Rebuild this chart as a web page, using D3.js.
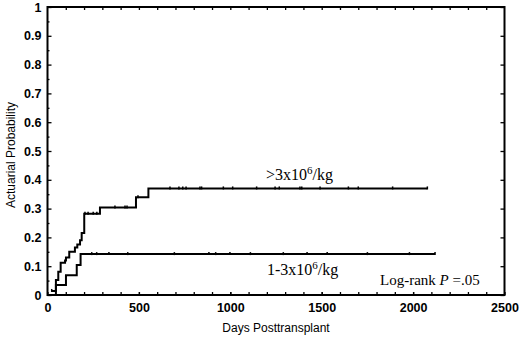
<!DOCTYPE html>
<html>
<head>
<meta charset="utf-8">
<script src="https://cdn.jsdelivr.net/npm/d3@7"></script>
<style>
  html, body { margin: 0; padding: 0; background: #fff; }
  svg { display: block; }
</style>
</head>
<body>
<div id="chart"></div>
<script>
// step curves (cumulative probability after each event)
const highTimes = [23, 46, 59, 72, 96, 101, 119, 150, 163, 178, 187, 201, 287, 484, 552, 2078];
const highProb  = [0.014, 0.052, 0.081, 0.112, 0.120, 0.130, 0.150, 0.165, 0.175, 0.190, 0.215, 0.282, 0.304, 0.339, 0.370, 0.370];
const highCensored = [23, 205, 222, 250, 270, 369, 424, 435, 495, 670, 719, 740, 758, 834, 843, 962,
  1013, 1144, 1245, 1268, 1381, 1391, 1491, 1646, 1700, 1888, 2078];

const lowTimes = [46, 46, 101, 160, 181, 2120];
const lowProb  = [0, 0.035, 0.069, 0.104, 0.142, 0.142];
const lowCensored = [242, 269, 336, 439, 694, 883, 920, 998, 1110, 1290, 1420, 1530, 1750, 1980, 2120];

const xTicks = [0, 500, 1000, 1500, 2000, 2500];
const yTicks = [0, 0.1, 0.2, 0.3, 0.4, 0.5, 0.6, 0.7, 0.8, 0.9, 1];

const W = 520, H = 340;
const mLeft = 47.5, mRight = 504.5, mTop = 7, mBottom = 295;

const svg = d3.select('#chart').append('svg')
  .attr('width', W).attr('height', H);

const x = d3.scaleLinear().domain([0, 2500]).range([mLeft, mRight]);
const y = d3.scaleLinear().domain([0, 1]).range([mBottom, mTop]);

// inward ticks on all four sides
const fmtY = d => d === 0 ? '0' : d === 1 ? '1' : d3.format('.1f')(d);

svg.append('g').attr('transform', `translate(0,${mBottom})`)
  .call(d3.axisBottom(x).tickValues(xTicks).tickSizeInner(-3).tickSizeOuter(0).tickPadding(8).tickFormat(d3.format('d')));
svg.append('g').attr('transform', `translate(0,${mBottom})`)
  .call(d3.axisBottom(x).tickValues(d3.range(100, 2500, 100)).tickSizeInner(-3).tickSizeOuter(0).tickFormat(''));
svg.append('g').attr('transform', `translate(0,${mTop})`)
  .call(d3.axisTop(x).tickValues(d3.range(100, 2500, 100)).tickSizeInner(-3).tickSizeOuter(0).tickFormat(''));

svg.append('g').attr('transform', `translate(${mLeft},0)`)
  .call(d3.axisLeft(y).tickValues(yTicks).tickSizeInner(-4).tickSizeOuter(0).tickPadding(6).tickFormat(fmtY));
svg.append('g').attr('transform', `translate(${mLeft},0)`)
  .call(d3.axisLeft(y).tickValues(d3.range(0.05, 1, 0.1)).tickSizeInner(-2).tickSizeOuter(0).tickFormat(''));
svg.append('g').attr('transform', `translate(${mRight},0)`)
  .call(d3.axisRight(y).tickValues(yTicks).tickSizeInner(-4).tickSizeOuter(0).tickFormat(''));

svg.selectAll('.domain').remove();
svg.selectAll('.tick line').attr('stroke', '#000').attr('stroke-width', 1.3);
svg.selectAll('.tick text')
  .attr('font-family', '"Liberation Sans", Arial, sans-serif')
  .attr('font-weight', 'bold')
  .attr('font-size', 12.5)
  .attr('fill', '#000');

svg.append('rect')
  .attr('x', mLeft).attr('y', mTop)
  .attr('width', mRight - mLeft).attr('height', mBottom - mTop)
  .attr('fill', 'none').attr('stroke', '#000').attr('stroke-width', 2);

// curves
const line = d3.line().x(d => x(d[0])).y(d => y(d[1])).curve(d3.curveStepAfter);
const curves = [
  { times: highTimes, prob: highProb, cens: highCensored },
  { times: lowTimes, prob: lowProb, cens: lowCensored }
];

curves.forEach(c => {
  const pts = c.times.map((t, i) => [t, c.prob[i]]);
  svg.append('path')
    .attr('d', line(pts))
    .attr('fill', 'none')
    .attr('stroke', '#000')
    .attr('stroke-width', 2);

  const probAt = t => {
    let p = 0;
    c.times.forEach((tt, i) => { if (tt <= t) p = c.prob[i]; });
    return p;
  };
  svg.selectAll(null)
    .data(c.cens)
    .join('line')
    .attr('x1', d => x(d)).attr('x2', d => x(d))
    .attr('y1', d => y(probAt(d)) - 2).attr('y2', d => y(probAt(d)) + 1)
    .attr('stroke', '#000').attr('stroke-width', 1.5);
});

// labels
const serif = '"Liberation Serif", "Times New Roman", serif';
const lab1 = svg.append('text')
  .attr('x', 266).attr('y', 180)
  .attr('font-family', serif).attr('font-size', 16);
lab1.append('tspan').text('>3x10');
lab1.append('tspan').attr('font-size', 11).attr('dy', -6).text('6');
lab1.append('tspan').attr('dy', 6).text('/kg');

const lab2 = svg.append('text')
  .attr('x', 267).attr('y', 275)
  .attr('font-family', serif).attr('font-size', 16);
lab2.append('tspan').text('1-3x10');
lab2.append('tspan').attr('font-size', 11).attr('dy', -6).text('6');
lab2.append('tspan').attr('dy', 6).text('/kg');

const lab3 = svg.append('text')
  .attr('x', 380).attr('y', 285)
  .attr('font-family', serif).attr('font-size', 15);
lab3.append('tspan').text('Log-rank ');
lab3.append('tspan').attr('font-style', 'italic').text('P');
lab3.append('tspan').text(' =.05');

svg.append('text')
  .attr('x', (mLeft + mRight) / 2).attr('y', 332)
  .attr('text-anchor', 'middle')
  .attr('font-family', '"Liberation Sans", Arial, sans-serif')
  .attr('font-size', 12)
  .text('Days Posttransplant');

svg.append('text')
  .attr('transform', `translate(15,${(mTop + mBottom) / 2 + 4}) rotate(-90)`)
  .attr('text-anchor', 'middle')
  .attr('font-family', '"Liberation Sans", Arial, sans-serif')
  .attr('font-size', 12)
  .text('Actuarial Probability');
</script>
</body>
</html>
